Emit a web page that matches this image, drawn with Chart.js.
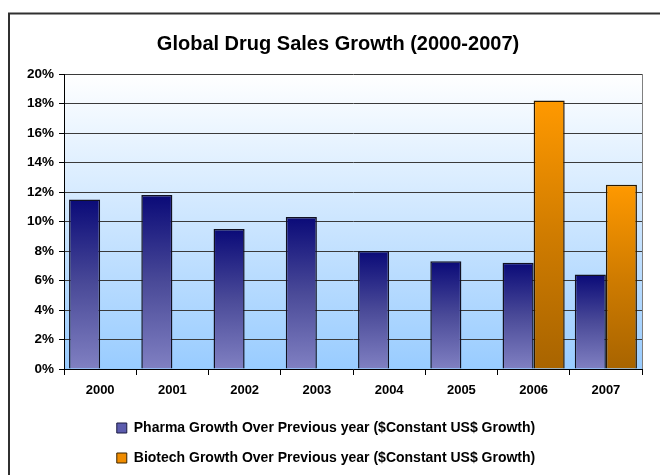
<!DOCTYPE html>
<html>
<head>
<meta charset="utf-8">
<script src="https://cdn.jsdelivr.net/npm/chart.js@4.4.1/dist/chart.umd.min.js"></script>
<style>
  html, body { margin: 0; padding: 0; background: #ffffff; overflow: hidden; }
  #wrap { width: 660px; height: 475px; position: relative; }
</style>
</head>
<body>
<div id="wrap"><canvas id="c" width="660" height="475"></canvas></div>
<script>
const categories = ['2000', '2001', '2002', '2003', '2004', '2005', '2006', '2007'];
const pharmaGrowth = [11.5, 11.8, 9.5, 10.3, 8.0, 7.3, 7.2, 6.4];
const biotechGrowth = [null, null, null, null, null, null, 18.2, 12.5];
const yTickValues = [0, 2, 4, 6, 8, 10, 12, 14, 16, 18, 20];
const titleText = 'Global Drug Sales Growth (2000-2007)';
const pharmaLabel = 'Pharma Growth Over Previous year ($Constant US$ Growth)';
const biotechLabel = 'Biotech Growth Over Previous year ($Constant US$ Growth)';

const FONT = '"Liberation Sans", Arial, sans-serif';

function barGradient(topColor, midColor, bottomColor, fallback) {
  return function(ctx) {
    const chart = ctx.chart;
    if (!chart.chartArea || !chart.scales || !chart.scales.y) return fallback;
    const v = ctx.raw;
    if (v === null || v === undefined) return fallback;
    const y = chart.scales.y;
    const yTop = y.getPixelForValue(v);
    const yBot = y.getPixelForValue(0);
    if (!isFinite(yTop) || !isFinite(yBot) || yTop === yBot) return fallback;
    const g = chart.ctx.createLinearGradient(0, yTop, 0, yBot);
    g.addColorStop(0, topColor);
    g.addColorStop(0.5, midColor);
    g.addColorStop(1, bottomColor);
    return g;
  };
}

const decor = {
  id: 'decor',
  afterLayout(chart) {
    const t = chart.titleBlock;
    if (t) { t.left += 12; t.right += 12; }
  },
  beforeDraw(chart) {
    const { ctx, chartArea: a } = chart;
    ctx.save();
    ctx.fillStyle = '#ffffff';
    ctx.fillRect(0, 0, chart.width, chart.height);
    const g = ctx.createLinearGradient(0, a.top, 0, a.bottom);
    g.addColorStop(0, '#ffffff');
    g.addColorStop(1, '#99ccff');
    ctx.fillStyle = g;
    ctx.fillRect(a.left, a.top, a.right - a.left, a.bottom - a.top);
    ctx.restore();
  },
  afterDatasetsDraw(chart) {
    const { ctx, chartArea: a } = chart;
    ctx.save();
    ctx.strokeStyle = '#808080';
    ctx.lineWidth = 1;
    ctx.beginPath();
    ctx.moveTo(a.right + 0.5, a.top);
    ctx.lineTo(a.right + 0.5, a.bottom);
    ctx.stroke();
    ctx.restore();
  },
  afterDraw(chart) {
    const ctx = chart.ctx;
    ctx.save();
    ctx.strokeStyle = '#303030';
    ctx.lineWidth = 2;
    ctx.beginPath();
    ctx.moveTo(9, chart.height + 2);
    ctx.lineTo(9, 13.5);
    ctx.lineTo(chart.width + 2, 13.5);
    ctx.stroke();
    ctx.restore();
  }
};

new Chart(document.getElementById('c'), {
  type: 'bar',
  data: {
    labels: categories,
    datasets: [
      {
        label: pharmaLabel,
        data: pharmaGrowth,
        backgroundColor: barGradient('#0a0a78', '#4a4a98', '#8080c2', '#4a4a98'),
        borderColor: '#111122',
        borderWidth: 1.5,
        categoryPercentage: 0.86,
        barPercentage: 1.0
      },
      {
        label: biotechLabel,
        data: biotechGrowth,
        backgroundColor: barGradient('#ff9900', '#d07c00', '#a86400', '#d07c00'),
        borderColor: '#2a1800',
        borderWidth: 1.5,
        categoryPercentage: 0.86,
        barPercentage: 1.0
      }
    ]
  },
  options: {
    responsive: false,
    animation: false,
    devicePixelRatio: 1,
    layout: { padding: { left: 10, right: 18, top: 14, bottom: 0 } },
    plugins: {
      title: {
        display: true,
        text: titleText,
        color: '#000000',
        font: { family: FONT, size: 20, weight: 'bold' },
        padding: { top: 18, bottom: 18 }
      },
      legend: {
        position: 'bottom',
        align: 'center',
        labels: {
          color: '#000000',
          font: { family: FONT, size: 14, weight: 'bold' },
          boxWidth: 10,
          boxHeight: 10,
          padding: 16,
          generateLabels(chart) {
            return [
              { text: pharmaLabel, fillStyle: '#5c5cae', strokeStyle: '#1a1a40', lineWidth: 1, datasetIndex: 0, fontColor: '#000' },
              { text: biotechLabel, fillStyle: '#f08c00', strokeStyle: '#3a2400', lineWidth: 1, datasetIndex: 1, fontColor: '#000' }
            ];
          }
        }
      },
      tooltip: { enabled: false }
    },
    scales: {
      x: {
        afterFit(scale) { scale.height = 36; },
        grid: {
          display: true,
          drawOnChartArea: false,
          drawTicks: true,
          tickLength: 6,
          color: '#000000',
          offset: true
        },
        border: { display: true, color: '#000000', width: 1 },
        ticks: {
          color: '#000000',
          font: { family: FONT, size: 13, weight: 'bold' },
          padding: 8
        }
      },
      y: {
        min: 0,
        max: 20,
        afterFit(scale) { scale.width = 54; },
        afterBuildTicks(scale) { scale.ticks = yTickValues.map(v => ({ value: v })); },
        grid: {
          color: '#3a3a3a',
          lineWidth: 1,
          drawTicks: true,
          tickLength: 5,
          tickColor: '#000000'
        },
        border: { display: true, color: '#000000', width: 1 },
        ticks: {
          color: '#000000',
          font: { family: FONT, size: 13.5, weight: 'bold' },
          padding: 5,
          callback: (v) => v + '%'
        }
      }
    }
  },
  plugins: [decor]
});
</script>
</body>
</html>
